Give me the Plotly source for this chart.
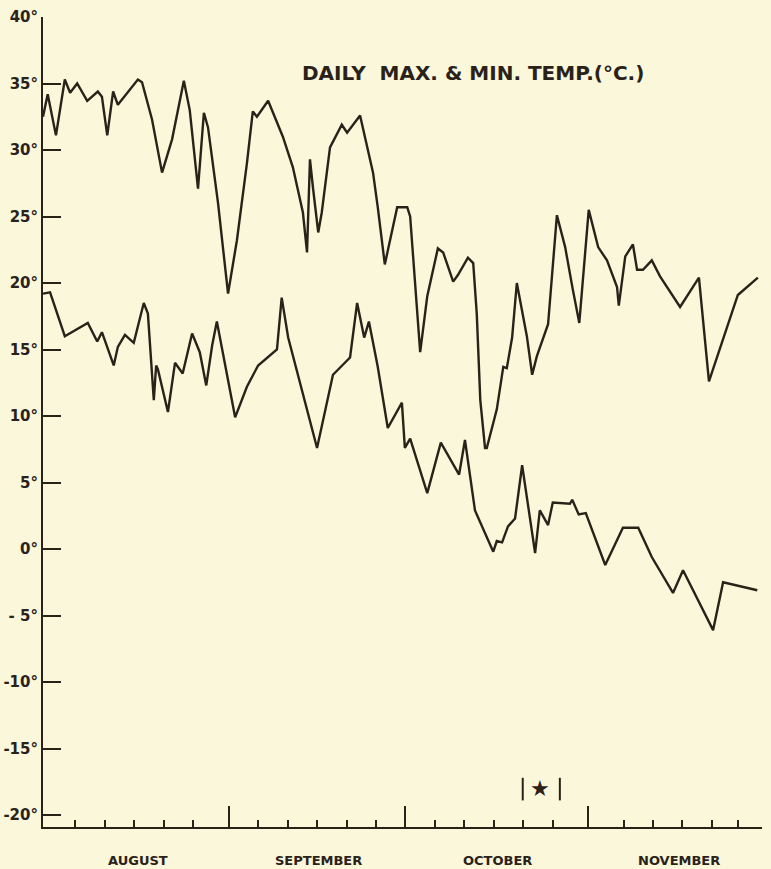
import plotly.graph_objects as go

# ---- data (days counted from 1 August; value in deg C) ----
max_days = [-0.5, 0.3, 1.7, 3.2, 4.1, 5.3, 7.0, 8.8, 9.5, 10.4, 11.4, 12.2, 15.6, 16.3, 18.0,
            19.7, 21.4, 23.4, 24.4, 25.8, 26.8, 27.5, 29.2, 30.9, 32.4, 34.1, 35.1, 35.8, 37.7,
            39.2, 40.2, 41.9, 43.6, 44.3, 44.8, 45.3, 46.2, 46.8, 48.2, 50.2, 51.1, 53.3, 55.5,
            56.3, 57.5, 59.6, 61.3, 61.8, 63.5, 64.7, 66.5, 67.4, 69.1, 69.9, 71.6, 72.5, 73.1,
            73.7, 74.5, 74.8, 76.5, 77.6, 78.2, 79.1, 79.9, 81.6, 82.5, 83.3, 85.2, 86.7, 88.1,
            89.4, 90.5, 92.1, 93.7, 95.2, 96.9, 97.2, 98.3, 99.6, 100.3, 101.3, 102.8, 104.2,
            107.6, 110.8, 112.5, 117.4, 120.8]
max_temp = [32.5, 34.2, 31.1, 35.3, 34.3, 35.0, 33.7, 34.4, 34.0, 31.1, 34.4, 33.4, 35.3, 35.1, 32.3,
            28.3, 30.8, 35.2, 33.0, 27.1, 32.8, 31.7, 26.0, 19.2, 23.2, 29.0, 32.9, 32.5, 33.7,
            32.0, 31.0, 28.7, 25.3, 22.3, 29.3, 27.2, 23.8, 25.3, 30.2, 31.9, 31.3, 32.6, 28.3,
            25.7, 21.4, 25.7, 25.7, 25.0, 14.8, 19.0, 22.6, 22.3, 20.1, 20.6, 21.9, 21.5, 17.7,
            11.2, 7.6, 7.6, 10.5, 13.7, 13.6, 15.9, 20.0, 16.0, 13.1, 14.5, 16.9, 25.1, 22.7,
            19.5, 17.0, 25.5, 22.7, 21.7, 19.7, 18.3, 22.0, 22.9, 21.0, 21.0, 21.7, 20.5,
            18.2, 20.4, 12.6, 19.1, 20.4]

min_days = [-0.5, 0.7, 3.2, 7.1, 8.7, 9.5, 11.5, 12.2, 13.4, 14.9, 16.6, 17.3, 18.3, 18.7, 19.0,
            20.7, 21.9, 23.2, 24.8, 26.1, 27.2, 28.2, 29.0, 32.1, 34.1, 36.0, 39.2, 40.0, 41.1,
            46.0, 48.7, 51.6, 52.8, 54.0, 54.8, 56.3, 58.0, 60.4, 60.9, 61.8, 64.7, 67.0, 70.1,
            71.1, 72.8, 75.9, 76.5, 77.4, 78.4, 79.6, 80.8, 83.0, 83.8, 85.2, 86.0, 88.9, 89.3,
            90.4, 91.6, 94.9, 97.9, 100.5, 102.8, 106.4, 108.1, 113.2, 114.9, 120.7]
min_temp = [19.2, 19.3, 16.0, 17.0, 15.6, 16.3, 13.8, 15.2, 16.1, 15.5, 18.5, 17.7, 11.2, 13.8, 13.5,
            10.3, 14.0, 13.2, 16.2, 14.8, 12.3, 15.3, 17.1, 9.9, 12.2, 13.8, 15.0, 18.9, 15.9,
            7.6, 13.1, 14.4, 18.5, 15.9, 17.1, 13.7, 9.1, 11.0, 7.6, 8.3, 4.2, 8.0, 5.6,
            8.2, 2.9, -0.2, 0.6, 0.5, 1.7, 2.3, 6.3, -0.3, 2.9, 1.8, 3.5, 3.4, 3.7,
            2.6, 2.7, -1.2, 1.6, 1.6, -0.6, -3.3, -1.6, -6.1, -2.5, -3.1]

month_names = ["AUGUST", "SEPTEMBER", "OCTOBER", "NOVEMBER"]
month_mid = [15.6, 46.2, 76.7, 107.4]
month_bounds = [31, 61, 92, 121.5]
minor_ticks = [5, 10, 15, 20, 25, 36, 41, 46, 51, 56, 66, 71, 76, 81, 86, 98, 103, 108, 113, 117.5]

y_tickvals = [-20, -15, -10, -5, 0, 5, 10, 15, 20, 25, 30, 35, 40]
y_ticktext = ["-20°", "-15°", "-10°", "- 5°", "0°", "5°", "10°", "15°", "20°", "25°", "30°", "35°", "40°"]

event_start, event_end, event_mid = 80.9, 87.2, 83.8

INK = "#2a2219"
BG = "#FBF7DA"
W, H = 771, 869
ML, MR, MT, MB = 43, 9, 17, 42

fig = go.Figure()
fig.add_trace(go.Scatter(x=max_days, y=max_temp, mode="lines",
                         line=dict(color=INK, width=2.4), name="Max", showlegend=False))
fig.add_trace(go.Scatter(x=min_days, y=min_temp, mode="lines",
                         line=dict(color=INK, width=2.4), name="Min", showlegend=False))

fig.update_layout(
    width=W, height=H,
    margin=dict(l=ML, r=MR, t=MT, b=MB, autoexpand=False),
    paper_bgcolor=BG, plot_bgcolor=BG,
    showlegend=False,
    xaxis=dict(range=[-0.5, 121.5], showgrid=False, zeroline=False, automargin=False,
               showline=True, linecolor=INK, linewidth=2,
               tickmode="array", tickvals=month_bounds, ticks="inside",
               ticklen=21, tickwidth=2, tickcolor=INK, showticklabels=False,
               minor=dict(tickmode="array", tickvals=minor_ticks, ticks="inside",
                          ticklen=7, tickwidth=2, tickcolor=INK)),
    yaxis=dict(range=[-20.9, 40], showgrid=False, zeroline=False, automargin=False,
               showline=True, linecolor=INK, linewidth=2,
               tickmode="array", tickvals=y_tickvals, ticktext=y_ticktext,
               ticks="inside", ticklen=18, tickwidth=2, tickcolor=INK,
               tickfont=dict(family="DejaVu Sans", size=15, color=INK, weight="bold")),
)

for name, xm in zip(month_names, month_mid):
    fig.add_annotation(x=xm, y=0, xref="x", yref="paper", yshift=-33, yanchor="middle",
                       text="<b>%s</b>" % name, showarrow=False,
                       font=dict(family="DejaVu Sans", size=13, color=INK))

pw, ph = W - ML - MR, H - MT - MB
fig.add_annotation(x=(473 - ML) / pw, y=1 - (73 - MT) / ph, xref="paper", yref="paper",
                   xanchor="center", yanchor="middle",
                   text="<b>DAILY  MAX. & MIN. TEMP.(°C.)</b>",
                   showarrow=False, font=dict(family="DejaVu Sans", size=20, color=INK))

# event marker  |★|
for xe in [event_start, event_end]:
    fig.add_shape(type="line", x0=xe, x1=xe, y0=-17.2, y1=-18.9, xref="x", yref="y",
                  line=dict(color=INK, width=2))
fig.add_annotation(x=event_mid, y=-18.0, xref="x", yref="y", text="★", showarrow=False,
                   font=dict(family="DejaVu Sans", size=22, color=INK))

fig.write_html("out.html", config={"displayModeBar": False},
               post_script="document.body.style.margin='0';document.body.style.overflow='hidden';")
